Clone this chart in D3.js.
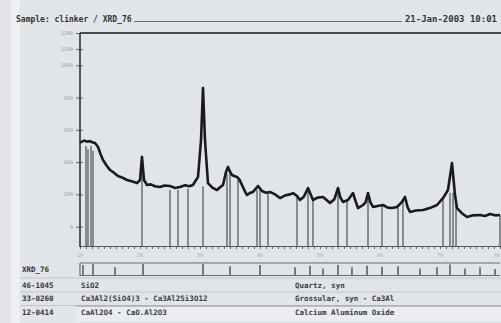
<!DOCTYPE html>
<html><head><meta charset="utf-8">
<script src="https://cdn.jsdelivr.net/npm/d3@7"></script>
<style>body{margin:0;background:#e1e4e9}svg{display:block}</style></head>
<body>
<svg id="c" width="501" height="323"></svg>
<script>
// ---- data ----
const titleText = "Sample: clinker / XRD_76";
const dateText = "21-Jan-2003 10:01";
const scanName = "XRD_76";

const twoTheta = [10.0,10.17,10.67,11.17,11.67,12.17,12.5,13.0,13.4,13.83,14.4,15.0,15.6,16.33,17.0,17.83,18.6,19.5,20.0,20.33,20.67,21.17,21.8,22.5,23.33,24.1,25.0,25.8,26.67,27.5,28.2,28.83,29.67,30.17,30.5,30.83,31.33,32.1,32.83,33.4,33.83,34.33,34.67,35.0,35.33,35.8,36.17,36.6,37.0,37.4,37.83,38.3,38.83,39.67,40.33,41.0,41.67,42.5,43.33,44.3,45.0,45.5,46.17,46.67,47.3,48.0,48.5,48.83,49.6,50.5,51.1,51.67,52.4,53.0,53.4,53.83,54.67,55.5,56.0,56.33,57.17,57.6,58.0,58.4,58.83,59.6,60.5,61.3,62.0,62.83,63.6,64.17,64.6,65.0,66.0,67.17,68.3,69.5,70.5,71.33,72.0,72.5,72.83,73.6,74.5,75.5,76.67,77.5,78.33,79.2,80.0];
const counts = [520,524,533,527,530,521,518,494,452,413,380,351,336,314,305,289,281,270,289,432,289,258,262,250,246,255,252,240,246,256,250,258,308,537,859,537,270,240,227,245,258,339,370,340,320,312,308,290,258,225,196,208,215,252,221,210,215,200,177,195,200,208,190,165,185,239,195,165,180,184,165,146,170,239,180,153,165,208,150,115,134,150,208,150,122,128,134,118,115,122,150,184,120,91,100,103,115,134,177,227,394,196,115,85,60,70,72,66,78,70,72];

const stickPos = [11.0,11.33,11.83,12.17,20.33,25.0,26.33,28.0,30.5,34.5,35.0,36.33,39.5,40.0,41.33,46.17,48.0,48.83,53.0,54.5,58.0,60.33,63.0,63.83,70.5,71.67,72.17,72.67,80.0];
const stickInt = [500,480,500,470,413,227,227,235,250,330,330,290,230,230,210,190,220,170,220,160,200,130,120,170,170,210,210,150,70];

const phasePos = [10.5,12.17,15.83,20.5,30.5,35.0,40.0,45.83,48.33,50.5,53.0,55.33,57.83,60.33,63.0,66.67,69.5,71.67,74.17,76.67,79.17];
const phaseInt = [90,100,70,100,100,80,90,70,85,60,90,70,85,75,80,60,70,95,60,70,55];

const yTicks = [0,200,400,600,800,1000,1100,1200];
const xTicks = [10,20,30,40,50,60,70,80];

const phaseCodes = ["46-1045","33-0260","12-0414"];
const phaseFormulas = ["SiO2","Ca3Al2(SiO4)3 - Ca3Al2Si3O12","CaAl2O4 - CaO.Al2O3"];
const phaseNames = ["Quartz, syn","Grossular, syn - Ca3Al","Calcium Aluminum Oxide"];

// ---- drawing ----
const svg = d3.select("#c");
const x = d3.scaleLinear().domain([10,80]).range([80,500]);
const y = d3.scaleLinear().domain([-120,1200]).range([246,33]);
const yp = d3.scaleLinear().domain([0,100]).range([275,264]);
const mono = "'DejaVu Sans Mono', monospace";

svg.append("rect").attr("width",501).attr("height",323).attr("fill","#e1e4e9");
svg.append("rect").attr("x",11).attr("y",0).attr("width",9).attr("height",323).attr("fill","#edeff2");

// header
svg.append("text").attr("x",16).attr("y",22).attr("font-family",mono).attr("font-size",8)
  .attr("font-weight","bold").attr("fill","#333").text(titleText);
svg.append("text").attr("x",497).attr("y",22).attr("text-anchor","end").attr("font-family",mono)
  .attr("font-size",9).attr("font-weight","bold").attr("fill","#333").text(dateText);
svg.append("line").attr("x1",134).attr("x2",402).attr("y1",21.5).attr("y2",21.5).attr("stroke","#6b6d70").attr("stroke-width",1.2);

// sticks
svg.append("g").selectAll("line").data(stickPos).join("line")
  .attr("x1",d=>x(d)).attr("x2",d=>x(d)).attr("y1",y(-120)).attr("y2",(d,i)=>y(stickInt[i]))
  .attr("stroke","#7e8186").attr("stroke-width",1.8);

// pattern line
svg.append("path").datum(twoTheta.map((t,i)=>[t,counts[i]]))
  .attr("d",d3.line().x(d=>x(d[0])).y(d=>y(d[1])))
  .attr("fill","none").attr("stroke","#1a1a1a").attr("stroke-width",2.6).attr("stroke-linejoin","round");

// axes
const ya = svg.append("g").attr("transform","translate(80,0)")
  .call(d3.axisLeft(y).tickValues(yTicks).tickSize(4).tickFormat(d3.format("d")));
ya.select(".domain").remove();
ya.selectAll("line").attr("stroke","#666").attr("x2",-4).attr("x1",3);
ya.selectAll("text").attr("font-size",5).attr("fill","#9a9ca0").attr("font-family",mono);

const xa = svg.append("g").attr("transform","translate(0,246)")
  .call(d3.axisBottom(x).tickValues(d3.range(10,81,1)).tickSize(3).tickFormat(""));
xa.select(".domain").attr("stroke","#555");
xa.selectAll("line").attr("stroke","#666");
svg.append("g").selectAll("text").data(xTicks).join("text")
  .attr("x",d=>x(d)).attr("y",257).attr("text-anchor",d=>d===80?"end":"middle").attr("font-size",5)
  .attr("font-family",mono).attr("fill","#a8aaae").text(d=>d);

svg.append("line").attr("x1",80).attr("x2",80).attr("y1",33).attr("y2",247).attr("stroke","#333").attr("stroke-width",1.6);
svg.append("line").attr("x1",80).attr("x2",501).attr("y1",33).attr("y2",33).attr("stroke","#4a4a4a").attr("stroke-width",2);

// phase stick panel
svg.append("text").attr("x",22).attr("y",272).attr("font-family",mono).attr("font-size",7.5)
  .attr("font-weight","bold").attr("fill","#333").text(scanName);
svg.append("line").attr("x1",80).attr("x2",500).attr("y1",263).attr("y2",263).attr("stroke","#6a6c70").attr("stroke-width",1);
svg.append("line").attr("x1",80).attr("x2",500).attr("y1",275.5).attr("y2",275.5).attr("stroke","#6a6c70").attr("stroke-width",1);
svg.append("line").attr("x1",80).attr("x2",80).attr("y1",263).attr("y2",276).attr("stroke","#555");
svg.append("g").selectAll("line").data(phasePos).join("line")
  .attr("x1",d=>x(d)).attr("x2",d=>x(d)).attr("y1",yp(0)).attr("y2",(d,i)=>yp(phaseInt[i]))
  .attr("stroke","#4a4c50").attr("stroke-width",1.4);

// rows
svg.append("rect").attr("x",76).attr("y",306).attr("width",425).attr("height",15).attr("fill","#eaecef");
[278,292,305.5].forEach(yy=>svg.append("line").attr("x1",20).attr("x2",501).attr("y1",yy).attr("y2",yy)
  .attr("stroke","#c3c6cb").attr("stroke-width",1));
svg.append("line").attr("x1",76).attr("x2",501).attr("y1",306).attr("y2",306).attr("stroke","#a9acb1").attr("stroke-width",1.5);
const rowY = [288,301,315];
phaseCodes.forEach((c,i)=>{
  svg.append("text").attr("x",22).attr("y",rowY[i]).attr("font-family",mono).attr("font-size",7.5)
    .attr("font-weight","bold").attr("fill","#333").text(c);
  svg.append("text").attr("x",81).attr("y",rowY[i]).attr("font-family",mono).attr("font-size",7.5)
    .attr("font-weight","bold").attr("fill","#3a3a3a").text(phaseFormulas[i]);
  svg.append("text").attr("x",295).attr("y",rowY[i]).attr("font-family",mono).attr("font-size",7.5)
    .attr("font-weight","bold").attr("fill","#3a3a3a").text(phaseNames[i]);
});
</script>
</body></html>
